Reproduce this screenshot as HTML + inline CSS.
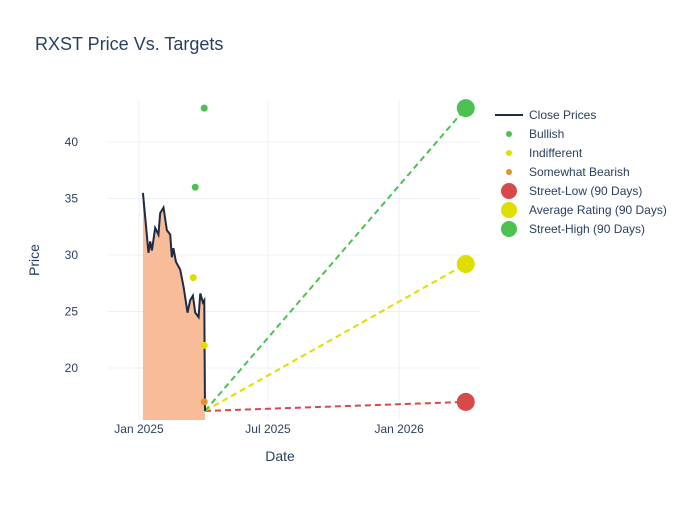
<!DOCTYPE html>
<html><head><meta charset="utf-8"><style>
body{margin:0;background:#fff;font-family:"Liberation Sans",sans-serif}
svg text{font-family:"Liberation Sans",sans-serif;fill:#2a3f5f}
</style></head><body>
<svg width="700" height="500">
<text x="35" y="50" font-size="18">RXST Price Vs. Targets</text>
<g id="grid"></g><g id="plot"></g><g id="legend"></g>
</svg>
<script>
const priceDays=[5.5,13.3,15.7,18.1,22.7,27.3,29.7,34.4,39.1,43.8,46.1,48.3,51.8,57.8,62.5,68.1,71.8,75.6,78.9,83.6,86,89.7,91.6,92.6];
const priceVals=[35.5,30.2,31.2,30.4,32.4,31.8,33.7,34.2,32.2,31.8,29.8,30.6,29.4,28.7,27.2,24.9,26,26.4,24.9,24.5,26.6,25.8,26,16.2];
const ratingDays=[91.5,78.9,76.1,91.5,91.5];
const ratingVals=[43,36,28,22,17];
const ratingCats=["Bullish","Bullish","Indifferent","Indifferent","Somewhat Bearish"];
const targetDay=458.5;
const targetVals=[17,29.2,43];
const targetNames=["Street-Low (90 Days)","Average Rating (90 Days)","Street-High (90 Days)"];
const yTicks=[20,25,30,35,40];
const xTickDays=[0,181,365];
const xTickLabels=["Jan 2025","Jul 2025","Jan 2026"];
const catColor={"Bullish":"#4cc152","Indifferent":"#dede00","Somewhat Bearish":"#e0922e"};
const targetColors=["#d8494b","#dede00","#4cc152"];
const X=d=>139+d*0.7127, Y=v=>142+(40-v)*11.3;
const NS="http://www.w3.org/2000/svg";
function mk(p,t,a){const e=document.createElementNS(NS,t);for(const k in a)e.setAttribute(k,a[k]);p.appendChild(e);return e;}
const grid=document.getElementById('grid'),plot=document.getElementById('plot'),leg=document.getElementById('legend');
yTicks.forEach(v=>{const l=mk(grid,'line',{x1:108,x2:480,y1:Y(v),y2:Y(v),stroke:'#ebf0f8'});

const t=mk(grid,'text',{x:78,y:Y(v)+4,'font-size':12,'text-anchor':'end'});t.textContent=v;
});
xTickDays.forEach((d,i)=>{const l=mk(grid,'line',{x1:X(d),x2:X(d),y1:100,y2:420,stroke:'#ebf0f8'});

const t=mk(grid,'text',{x:X(d),y:433,'font-size':12,'text-anchor':'middle'});t.textContent=xTickLabels[i];
});
let t=mk(grid,'text',{x:280,y:461,'font-size':14,'text-anchor':'middle'});t.textContent='Date';

t=mk(grid,'text',{x:39,y:260,'font-size':14,'text-anchor':'middle',transform:'rotate(-90 39 260)'});t.textContent='Price';

const pts=priceDays.map((d,i)=>X(d)+','+Y(priceVals[i]));
const area=mk(plot,'polygon',{points:X(priceDays[0])+',420 '+pts.join(' ')+' '+X(priceDays[priceDays.length-1])+',420',fill:'#f8bd98'});

const last=priceVals.length-1;
targetVals.forEach((v,i)=>{const l=mk(plot,'line',{x1:X(priceDays[last]),y1:Y(priceVals[last]),x2:X(targetDay),y2:Y(v),stroke:targetColors[i],'stroke-width':2,'stroke-dasharray':'6,4'});
});
const pl=mk(plot,'polyline',{points:pts.join(' '),fill:'none',stroke:'#1f2a44','stroke-width':2});

ratingDays.forEach((d,i)=>{const c=mk(plot,'circle',{cx:X(d),cy:Y(ratingVals[i]),r:3.5,fill:catColor[ratingCats[i]]});
});
targetVals.forEach((v,i)=>{const c=mk(plot,'circle',{cx:X(targetDay),cy:Y(v),r:9,fill:targetColors[i]});
});
const legItems=[["Close Prices","line","#1f2a44"],["Bullish","s",catColor.Bullish],["Indifferent","s",catColor.Indifferent],["Somewhat Bearish","s",catColor["Somewhat Bearish"]]].concat(targetNames.map((n,i)=>[n,"b",targetColors[i]]));
legItems.forEach((it,i)=>{const y=115+i*19;
const g=mk(leg,'g',{});
if(it[1]=='line')mk(g,'line',{x1:495,x2:523,y1:y,y2:y,stroke:it[2],'stroke-width':2});
else mk(g,'circle',{cx:509,cy:y,r:it[1]=='s'?3:8,fill:it[2]});
const tx=mk(g,'text',{x:529,y:y+4,'font-size':12});tx.textContent=it[0];});
</script>
</body></html>
